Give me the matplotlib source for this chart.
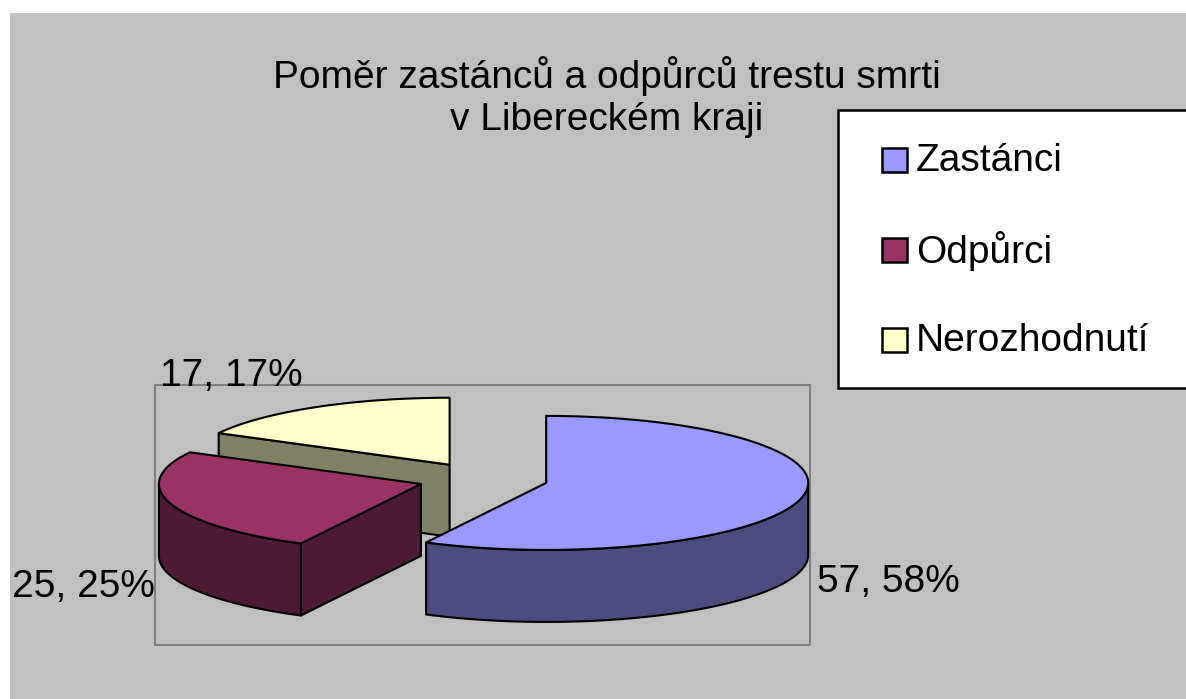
import numpy as np
import matplotlib
matplotlib.use("Agg")
from matplotlib import pyplot as plt
from matplotlib.patches import Polygon, Rectangle

# data
labels = ["Zastánci", "Odpůrci", "Nerozhodnutí"]
values = [57, 25, 17]
top_colors = ["#9999FF", "#993366", "#FFFFCC"]
side_colors = ["#4C4C80", "#4D1933", "#808066"]

title = "Poměr zastánců a odpůrců trestu smrti\nv Libereckém kraji"

plt.rcParams["font.family"] = ["Liberation Sans", "DejaVu Sans"]

W, H = 1186, 699
fig = plt.figure(figsize=(W / 100, H / 100), dpi=100)
ax = fig.add_axes([0, 0, 1, 1])
ax.set_xlim(0, W)
ax.set_ylim(H, 0)
ax.axis("off")

# chart area + plot area frame
ax.add_patch(Rectangle((10, 13), W, H, facecolor="#C0C0C0", edgecolor="none"))
ax.add_patch(Rectangle((155, 385), 655, 260, facecolor="none",
                       edgecolor="#808080", lw=1.5))

# 3D pie geometry (pixel units)
cx, cy = 483, 479
rx, ry = 262, 67
depth = 72
explode = 65
lw = 1.5


def pt(theta, ox, oy, dz=0):
    # theta clockwise from 12 o'clock, degrees
    t = np.radians(theta)
    return ox + rx * np.sin(t), oy - ry * np.cos(t) + dz


total = sum(values)
starts = np.cumsum([0] + values[:-1]) / total * 360
ends = np.cumsum(values) / total * 360

# back slices first: yellow, red, blue
for i in [2, 1, 0]:
    a0, a1 = starts[i], ends[i]
    mid = np.radians((a0 + a1) / 2)
    ox = cx + explode * np.sin(mid)
    oy = cy - explode * ry / rx * np.cos(mid)

    # radial faces (visible if normal points to the viewer)
    for ang, sign in [(a0, -1), (a1, 1)]:
        normal = np.radians(ang + sign * 90)
        if np.cos(normal) < -1e-6:
            p = pt(ang, ox, oy)
            face = [(ox, oy), p, (p[0], p[1] + depth), (ox, oy + depth)]
            ax.add_patch(Polygon(face, closed=True, facecolor=side_colors[i],
                                 edgecolor="black", lw=lw, joinstyle="round"))

    # outer wall on the front half
    w0, w1 = max(a0, 90), min(a1, 270)
    if w1 > w0:
        th = np.linspace(w0, w1, 100)
        top = [pt(t, ox, oy) for t in th]
        bot = [pt(t, ox, oy, depth) for t in th[::-1]]
        ax.add_patch(Polygon(top + bot, closed=True, facecolor=side_colors[i],
                             edgecolor="black", lw=lw, joinstyle="round"))

    # top face
    th = np.linspace(a0, a1, 200)
    poly = [(ox, oy)] + [pt(t, ox, oy) for t in th]
    ax.add_patch(Polygon(poly, closed=True, facecolor=top_colors[i],
                         edgecolor="black", lw=lw, joinstyle="round"))

# data labels
pct = [round(v / total * 100) for v in values]
txt = ["%d, %d%%" % (v, p) for v, p in zip(values, pct)]
fs = 28
ax.text(817, 582, txt[0], fontsize=fs, ha="left", va="center")
ax.text(155, 587, txt[1], fontsize=fs, ha="right", va="center")
ax.text(160, 376, txt[2], fontsize=fs, ha="left", va="center")

# title
ax.text(607, 97, title, fontsize=fs, ha="center", va="center",
        linespacing=1.22)

# legend
ax.add_patch(Rectangle((838, 110), 360, 278, facecolor="white",
                       edgecolor="black", lw=1.8))
for k, (lab, col) in enumerate(zip(labels, top_colors)):
    yy = 160 + k * 90
    ax.add_patch(Rectangle((882, yy - 12), 25, 24, facecolor=col,
                           edgecolor="black", lw=1.8))
    ax.text(916, yy + 1, lab, fontsize=fs, ha="left", va="center")

fig.savefig("out.png", dpi=100, facecolor="white")
